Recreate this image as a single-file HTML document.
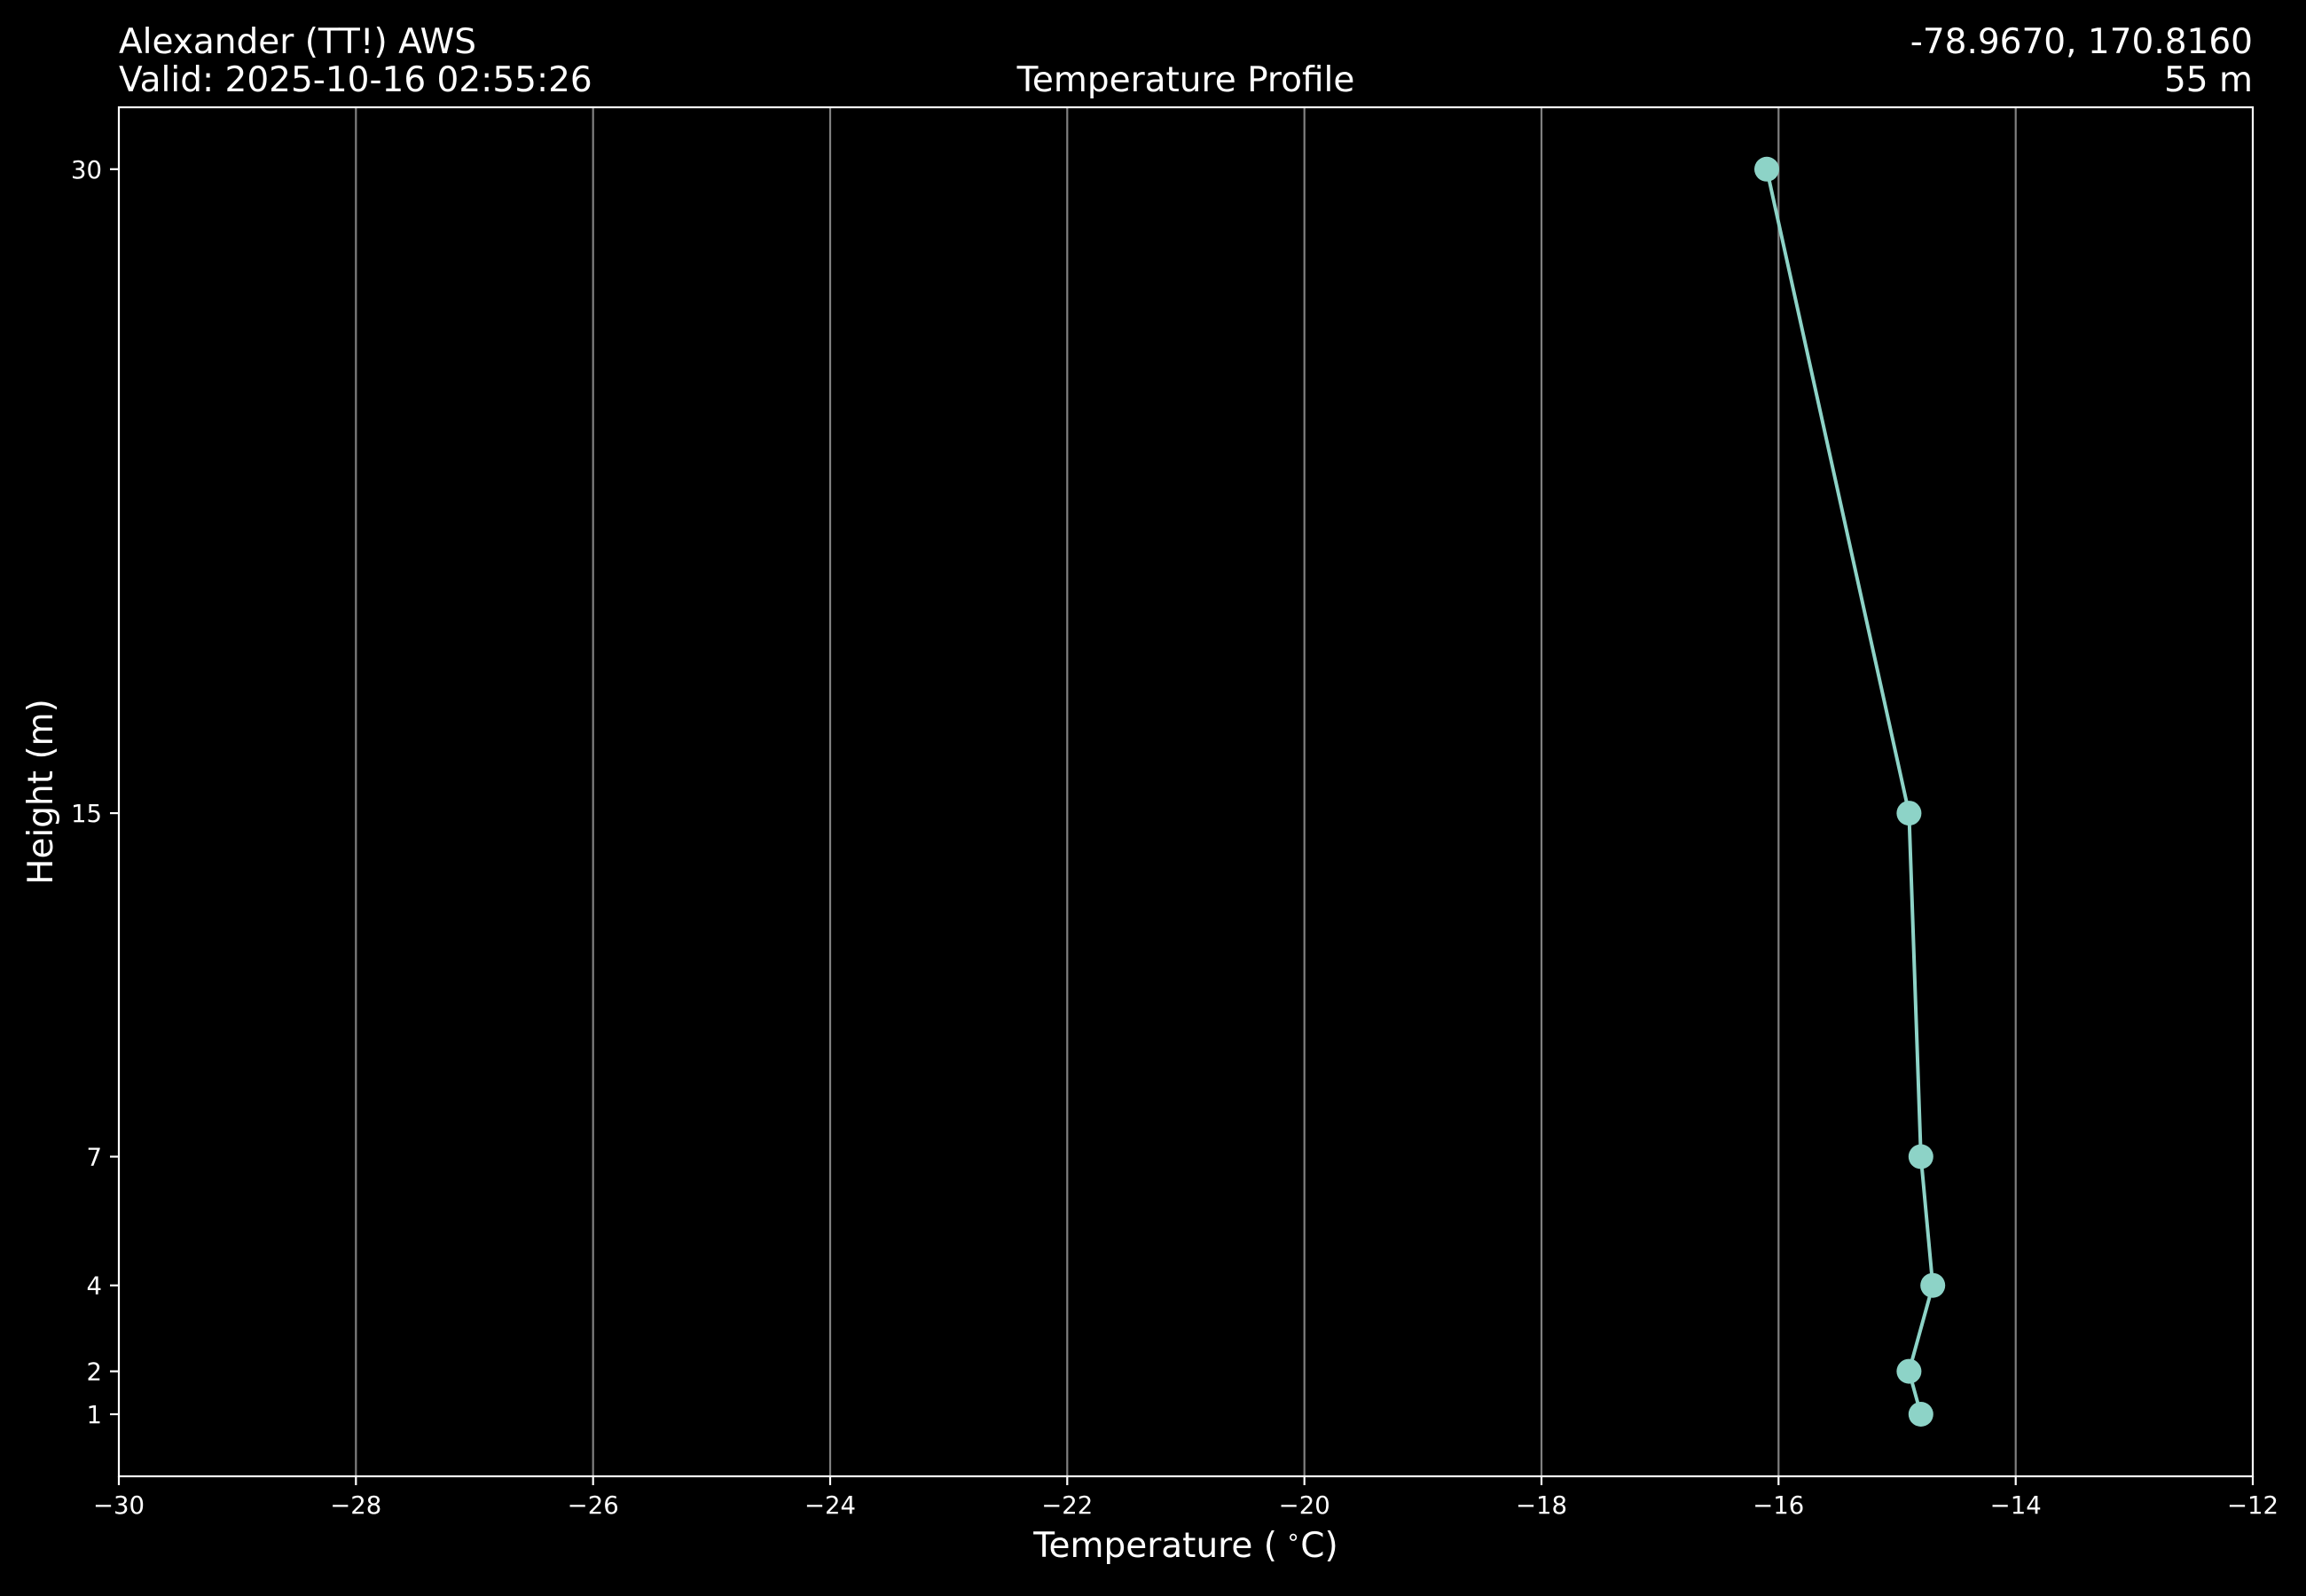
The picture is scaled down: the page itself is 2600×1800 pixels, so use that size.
<!DOCTYPE html>
<html><head><meta charset="utf-8"><style>html,body{margin:0;padding:0;background:#000;}svg{display:block}</style></head>
<body>
<svg width="2600" height="1800" viewBox="0 0 2600 1800" xmlns="http://www.w3.org/2000/svg" font-family="DejaVu Sans, Liberation Sans, sans-serif" fill="#fff">
<rect width="2600" height="1800" fill="#000"/>
<g stroke="#808080" stroke-width="2.2">
<line x1="401.3" y1="121" x2="401.3" y2="1665"/>
<line x1="668.7" y1="121" x2="668.7" y2="1665"/>
<line x1="936" y1="121" x2="936" y2="1665"/>
<line x1="1203.3" y1="121" x2="1203.3" y2="1665"/>
<line x1="1470.7" y1="121" x2="1470.7" y2="1665"/>
<line x1="1738" y1="121" x2="1738" y2="1665"/>
<line x1="2005.3" y1="121" x2="2005.3" y2="1665"/>
<line x1="2272.7" y1="121" x2="2272.7" y2="1665"/>
</g>
<rect x="134" y="121" width="2406" height="1544" fill="none" stroke="#fff" stroke-width="2.2"/>
<g stroke="#fff" stroke-width="2.2">
<line x1="134" y1="1665" x2="134" y2="1675"/><line x1="401.3" y1="1665" x2="401.3" y2="1675"/><line x1="668.7" y1="1665" x2="668.7" y2="1675"/><line x1="936" y1="1665" x2="936" y2="1675"/><line x1="1203.3" y1="1665" x2="1203.3" y2="1675"/><line x1="1470.7" y1="1665" x2="1470.7" y2="1675"/><line x1="1738" y1="1665" x2="1738" y2="1675"/><line x1="2005.3" y1="1665" x2="2005.3" y2="1675"/><line x1="2272.7" y1="1665" x2="2272.7" y2="1675"/><line x1="2540" y1="1665" x2="2540" y2="1675"/>
<line x1="124" y1="190.8" x2="134" y2="190.8"/><line x1="124" y1="917.1" x2="134" y2="917.1"/><line x1="124" y1="1304.5" x2="134" y2="1304.5"/><line x1="124" y1="1449.7" x2="134" y2="1449.7"/><line x1="124" y1="1546.6" x2="134" y2="1546.6"/><line x1="124" y1="1595" x2="134" y2="1595"/>
</g>
<g font-size="27.5" text-anchor="middle">
<text x="134" y="1707">−30</text><text x="401.3" y="1707">−28</text><text x="668.7" y="1707">−26</text><text x="936" y="1707">−24</text><text x="1203.3" y="1707">−22</text><text x="1470.7" y="1707">−20</text><text x="1738" y="1707">−18</text><text x="2005.3" y="1707">−16</text><text x="2272.7" y="1707">−14</text><text x="2540" y="1707">−12</text>
</g>
<g font-size="27.5" text-anchor="end">
<text x="115" y="200.8">30</text><text x="115" y="927.1">15</text><text x="115" y="1314.5">7</text><text x="115" y="1459.7">4</text><text x="115" y="1556.6">2</text><text x="115" y="1605">1</text>
</g>
<polyline fill="none" stroke="#8dd3c7" stroke-width="4" points="1992,190.8 2152.4,917.1 2165.8,1304.5 2179.2,1449.7 2152.4,1546.6 2165.8,1595"/>
<g fill="#8dd3c7">
<circle cx="1992" cy="190.8" r="14"/><circle cx="2152.4" cy="917.1" r="14"/><circle cx="2165.8" cy="1304.5" r="14"/><circle cx="2179.2" cy="1449.7" r="14"/><circle cx="2152.4" cy="1546.6" r="14"/><circle cx="2165.8" cy="1595" r="14"/>
</g>
<g font-size="39">
<text x="134" y="60">Alexander (TT!) AWS</text>
<text x="134" y="103">Valid: 2025-10-16 02:55:26</text>
<text x="1337" y="103" text-anchor="middle">Temperature Profile</text>
<text x="2540" y="60" text-anchor="end">-78.9670, 170.8160</text>
<text x="2540" y="103" text-anchor="end">55 m</text>
<text x="1337" y="1756" text-anchor="middle" xml:space="preserve">Temperature (<tspan font-size="26" dx="10" dy="-14">∘</tspan><tspan dy="14">C)</tspan></text>
<text transform="translate(59,893) rotate(-90)" text-anchor="middle">Height (m)</text>
</g>
</svg>
</body></html>
